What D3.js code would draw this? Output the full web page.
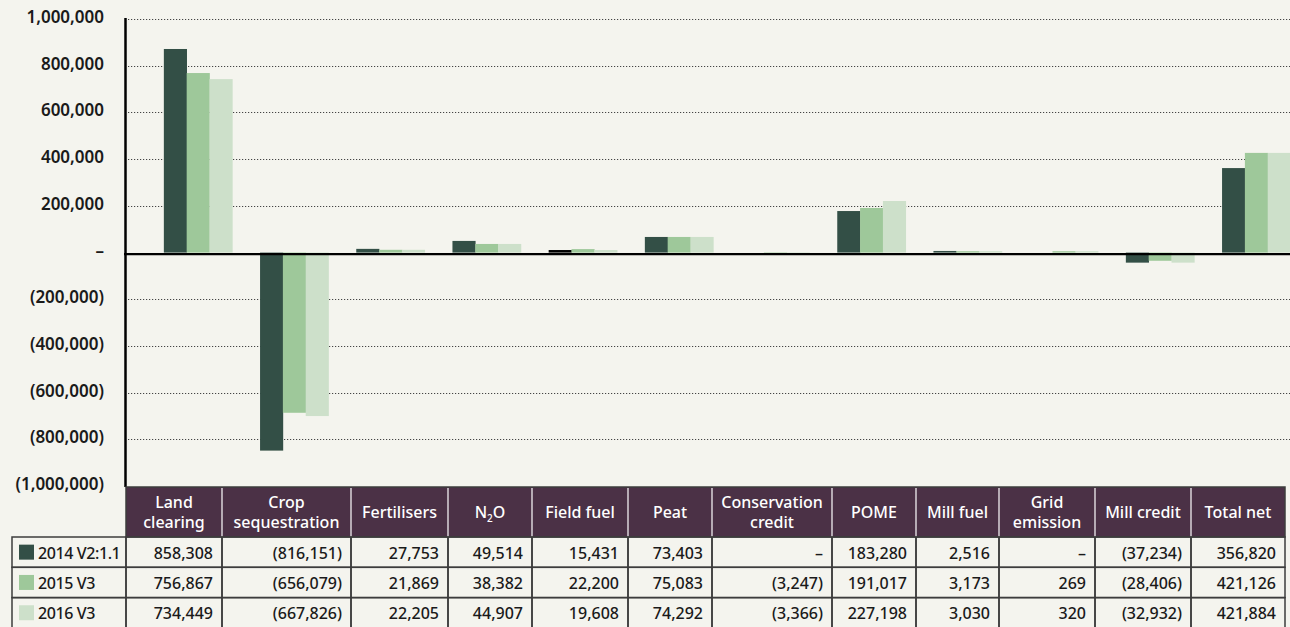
<!DOCTYPE html>
<html>
<head>
<meta charset="utf-8">
<script src="https://cdn.jsdelivr.net/npm/d3@7"></script>
<style>
    html, body { margin: 0; padding: 0; background: #f4f4ee; }
    svg { display: block; font-family: "Noto Sans", sans-serif; }
</style>
</head>
<body>
<div id="container"></div>
<script>
const width = 1290;
const height = 627;

// DATA
const categories = ["Land clearing", "Crop sequestration", "Fertilisers", "N2O", "Field fuel", "Peat",
    "Conservation credit", "POME", "Mill fuel", "Grid emission", "Mill credit", "Total net"];
const headerLines = [["Land", "clearing"], ["Crop", "sequestration"], ["Fertilisers"], ["N2O"], ["Field fuel"], ["Peat"],
    ["Conservation", "credit"], ["POME"], ["Mill fuel"], ["Grid", "emission"], ["Mill credit"], ["Total net"]];
const seriesNames = ["2014 V2:1.1", "2015 V3", "2016 V3"];

// bar heights as they are drawn in the chart
const bars2014 = [872000, -848000, 16000, 50000, 11000, 67000, 0, 178000, 7000, 0, -43000, 362000];
const bars2015 = [769000, -686000, 12000, 37000, 15000, 67000, -3000, 191000, 6000, 6000, -35000, 427000];
const bars2016 = [743000, -700000, 12000, 37000, 11000, 67000, -3000, 221000, 6000, 6000, -43000, 427000];

// figures printed in the table (null = dash)
const table2014 = [858308, -816151, 27753, 49514, 15431, 73403, null, 183280, 2516, null, -37234, 356820];
const table2015 = [756867, -656079, 21869, 38382, 22200, 75083, -3247, 191017, 3173, 269, -28406, 421126];
const table2016 = [734449, -667826, 22205, 44907, 19608, 74292, -3366, 227198, 3030, 320, -32932, 421884];

const yTicks = [1000000, 800000, 600000, 400000, 200000, 0, -200000, -400000, -600000, -800000, -1000000];

// STYLE
const colors = ["#334f46", "#9ec89a", "#cde0ca"];
const oddBar = { cat: "Field fuel", series: 0, fill: "#000" };  // drawn black in the original
const headerFill = "#4b3146";
const border = "#3d3d3d";

// table layout
const colEdges = [126, 222, 351, 448, 532, 628, 712, 832, 916, 999, 1095, 1191, 1285];
const labelLeft = 12;
const headTop = 487, headBottom = 537, rowH = 30.3;

const fmt = d3.format(",");
const fmtNum = function (v) {
    if (v === null || v === 0) return "–";
    return v < 0 ? "(" + fmt(-v) + ")" : fmt(v);
};

const svg = d3.select("div#container").append("svg")
    .attr("width", width)
    .attr("height", height);

svg.append("rect").attr("width", width).attr("height", height).attr("fill", "#f4f4ee");

// SCALES
const yScale = d3.scaleLinear().domain([-1000000, 1000000]).range([486.1, 19.1]);
const x0 = d3.scaleBand().domain(categories)
    .range([150, 150 + 12 * 96.2])
    .paddingInner(0.288).paddingOuter(0.144);
const x1 = d3.scaleBand().domain(seriesNames).range([0, x0.bandwidth()]);

// GRIDLINES
svg.append("g").selectAll("line")
    .data(yTicks.filter(d => d !== 0 && d !== -1000000))
    .enter().append("line")
    .attr("x1", 128).attr("x2", width)
    .attr("y1", d => Math.round(yScale(d)) + 0.5)
    .attr("y2", d => Math.round(yScale(d)) + 0.5)
    .attr("stroke", "#444")
    .attr("stroke-width", 1.2)
    .attr("stroke-dasharray", "1.2,1.8");

// BARS
const series = [bars2014, bars2015, bars2016];
const groups = svg.append("g").selectAll("g")
    .data(categories)
    .enter().append("g")
    .attr("transform", d => "translate(" + x0(d) + ",0)");

groups.selectAll("rect")
    .data((c, i) => series.map((s, j) => ({ cat: c, name: seriesNames[j], j: j, value: s[i] })))
    .enter().append("rect")
    .attr("x", d => x1(d.name))
    .attr("width", x1.bandwidth() + 0.3)
    .attr("y", d => yScale(Math.max(0, d.value)))
    .attr("height", d => Math.abs(yScale(d.value) - yScale(0)))
    .attr("fill", d => (d.cat === oddBar.cat && d.j === oddBar.series) ? oddBar.fill : colors[d.j]);

// AXES
svg.append("line")
    .attr("x1", 124).attr("x2", width)
    .attr("y1", yScale(0) + 1.5).attr("y2", yScale(0) + 1.5)
    .attr("stroke", "#000").attr("stroke-width", 2.3);

svg.append("line")
    .attr("x1", 125.5).attr("x2", 125.5)
    .attr("y1", 18).attr("y2", headTop)
    .attr("stroke", "#000").attr("stroke-width", 2.5);

svg.append("g").selectAll("text")
    .data(yTicks)
    .enter().append("text")
    .attr("x", 104)
    .attr("y", d => yScale(d) - 2)
    .attr("dy", "0.35em")
    .attr("text-anchor", "end")
    .attr("font-size", 17)
    .attr("font-weight", 600)
    .attr("fill", "#1a1a1a")
    .text(d => d === 0 ? "–" : fmtNum(d));

// TABLE
const table = svg.append("g");

table.append("rect")
    .attr("x", colEdges[0]).attr("y", headTop)
    .attr("width", colEdges[12] - colEdges[0]).attr("height", headBottom - headTop)
    .attr("fill", headerFill)
    .attr("stroke", border).attr("stroke-width", 1.5);

table.selectAll("line.sep")
    .data(colEdges.slice(1, -1))
    .enter().append("line")
    .attr("class", "sep")
    .attr("x1", d => d).attr("x2", d => d)
    .attr("y1", headTop + 1).attr("y2", headBottom)
    .attr("stroke", "#fff").attr("stroke-width", 1.2);

const headMid = (headTop + headBottom) / 2;
headerLines.forEach(function (lines, i) {
    const cx = (colEdges[i] + colEdges[i + 1]) / 2;
    const t = table.append("text")
        .attr("x", cx)
        .attr("text-anchor", "middle")
        .attr("font-size", 16)
        .attr("font-weight", 500)
        .attr("fill", "#fff");
    if (categories[i] === "N2O") {
        t.attr("y", headMid).attr("dy", "0.35em");
        t.append("tspan").text("N");
        t.append("tspan").attr("font-size", 10).attr("dy", 4).text("2");
        t.append("tspan").attr("dy", -4).text("O");
    } else {
        lines.forEach(function (line, k) {
            t.append("tspan")
                .attr("x", cx)
                .attr("y", headMid + (k - (lines.length - 1) / 2) * 20)
                .attr("dy", "0.35em")
                .text(line);
        });
    }
});

const tableRows = [table2014, table2015, table2016];
tableRows.forEach(function (row, r) {
    const top = headBottom + r * rowH;
    const mid = top + rowH / 2;
    const edges = [labelLeft].concat(colEdges);
    for (let c = 0; c < edges.length - 1; c++) {
        table.append("rect")
            .attr("x", edges[c]).attr("y", top)
            .attr("width", edges[c + 1] - edges[c]).attr("height", rowH)
            .attr("fill", "none")
            .attr("stroke", border).attr("stroke-width", 1.5);
    }
    table.append("rect")
        .attr("x", 19).attr("y", mid - 7.5)
        .attr("width", 15).attr("height", 15)
        .attr("fill", colors[r]);
    table.append("text")
        .attr("x", 38).attr("y", mid + 1)
        .attr("dy", "0.35em")
        .attr("font-size", 16).attr("font-weight", 500)
        .attr("letter-spacing", -0.4)
        .attr("fill", "#1a1a1a")
        .text(seriesNames[r]);
    row.forEach(function (v, c) {
        table.append("text")
            .attr("x", colEdges[c + 1] - 9).attr("y", mid + 1)
            .attr("dy", "0.35em")
            .attr("text-anchor", "end")
            .attr("font-size", 16).attr("font-weight", 500)
            .attr("fill", "#1a1a1a")
            .text(fmtNum(v));
    });
});
</script>
</body>
</html>
